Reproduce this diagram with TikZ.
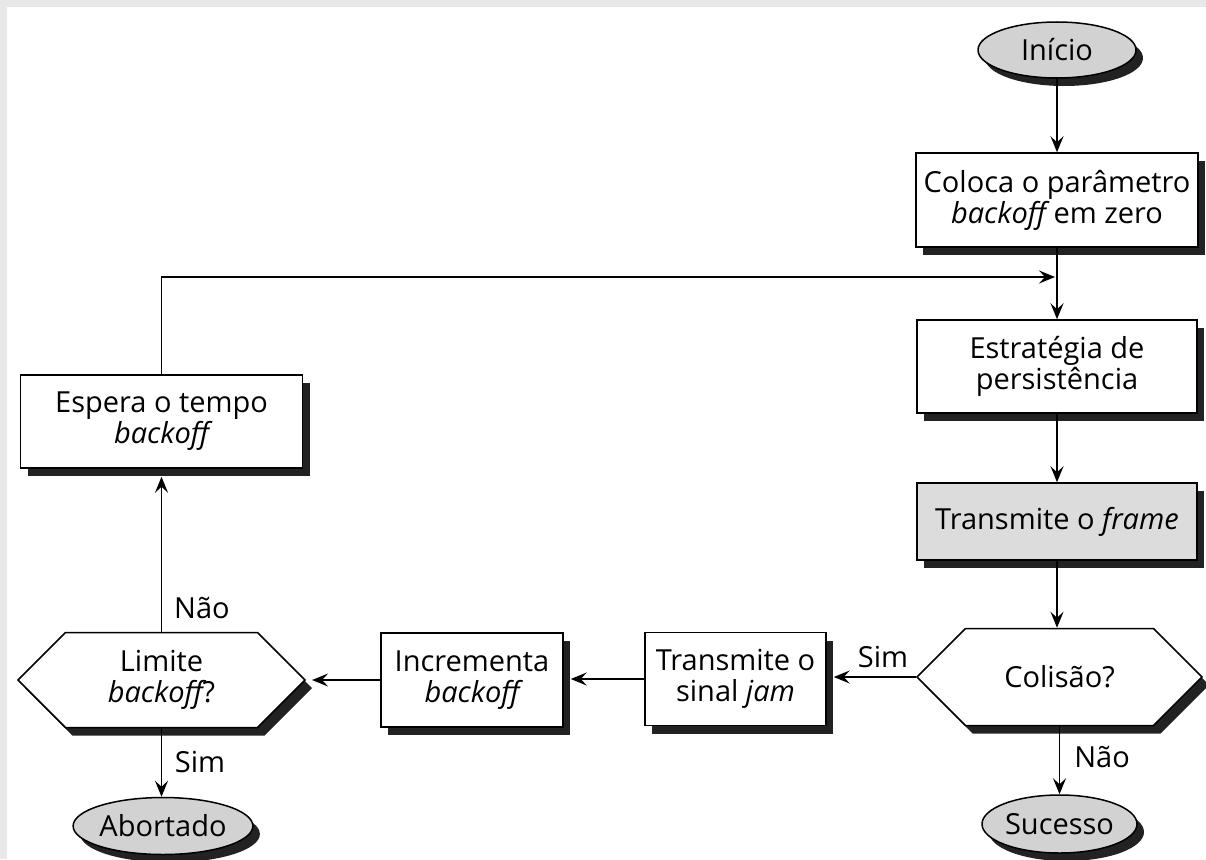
\documentclass[tikz,border=0pt]{standalone}
\usepackage{fontspec}
\setmainfont{Open Sans}
\usetikzlibrary{shapes.geometric,shapes.symbols,shadows,arrows.meta}
\definecolor{ovalfill}{HTML}{D2D2D2}
\definecolor{framefill}{HTML}{DCDCDC}
\definecolor{shade}{HTML}{222222}
\definecolor{margin}{HTML}{E8E8E8}

\begin{document}
\begin{tikzpicture}[x=1pt,y=-1pt,
  line width=1.5pt,
  font=\fontsize{29}{31}\selectfont,
  boxshadow/.style={drop shadow={shadow xshift=7pt,shadow yshift=-8pt,fill=shade,opacity=1}},
  proc/.style={draw=black, fill=white, rectangle, align=center, inner sep=0pt, boxshadow},
  term/.style={draw=black, fill=ovalfill, ellipse, inner sep=0pt, boxshadow},
  decision/.style={draw=black, fill=white, shape=signal, signal to=west and east,
    signal pointer angle=90, align=center, inner sep=0pt, boxshadow},
  flow/.style={draw=black, line width=1.5pt, -{Stealth[length=16pt,width=13pt,inset=6pt]}},
  lbl/.style={inner sep=0pt}
]
% page with a grey margin on the top and left edges
\fill[margin] (0,0) rectangle (1206,859);
\fill[white] (7,7) rectangle (1206,859);
\useasboundingbox (0,0) rectangle (1206,859);

% right column
\node[term, minimum width=158pt, minimum height=56pt] (inicio) at (1057,50) {Início};
\node[proc, minimum width=282pt, minimum height=94pt] (zera) at (1057,200)
  {Coloca o parâmetro\\{\itshape backoff} em zero};
\node[proc, minimum width=280pt, minimum height=93pt] (persist) at (1057,366.5)
  {Estratégia de\\persistência};
\node[proc, fill=framefill, minimum width=280pt, minimum height=77pt] (transmite) at (1057,521.5)
  {Transmite o {\itshape frame}};
\node[decision, minimum width=285pt, minimum height=97pt] (colisao) at (1059.5,677) {Colisão?};
\node[term, minimum width=155pt, minimum height=58pt] (sucesso) at (1059.5,824) {Sucesso};

% bottom row
\node[proc, minimum width=181pt, minimum height=93pt] (jam) at (735.5,679)
  {Transmite o\\sinal {\itshape jam}};
\node[proc, minimum width=182pt, minimum height=94pt] (incrementa) at (472,680)
  {Incrementa\\{\itshape backoff}};
\node[decision, minimum width=287pt, minimum height=95pt] (limite) at (161.5,680)
  {Limite\\{\itshape backoff}?};

% left column
\node[proc, minimum width=282pt, minimum height=93pt] (espera) at (161.5,421.5)
  {Espera o tempo\\{\itshape backoff}};
\node[term, minimum width=157pt, minimum height=57pt] (abortado) at (163,826) {Abortado};

% branch labels
\node[lbl] (naoEsq) at (202,608) {Não};
\node[lbl] (simEsq) at (200,762) {Sim};
\node[lbl] (simDir) at (883,657) {Sim};
\node[lbl] (naoDir) at (1102,757) {Não};

% connectors
\coordinate (retorno) at (1055,277);
\draw[flow] (inicio.south) -- (zera.north);
\draw[flow] (zera.south) -- (persist.north);
\draw[flow] (espera.north) |- (retorno);
\draw[flow] (persist.south) -- (transmite.north);
\draw[flow] (transmite.south) -- (transmite.south |- colisao.north);
\draw[flow] (colisao.south) -- (sucesso.north);
\draw[flow] (colisao.west) -- ([xshift=7pt]colisao.west -| jam.east);
\draw[flow] (jam.west) -- ([xshift=7pt]jam.west -| incrementa.east);
\draw[flow] (incrementa.west) -- ([xshift=6pt]incrementa.west -| limite.east);
\draw[flow] (limite.north) -- ([yshift=-8pt]limite.north |- espera.south);
\draw[flow] (limite.south) -- (limite.south |- abortado.north);
\end{tikzpicture}
\end{document}
